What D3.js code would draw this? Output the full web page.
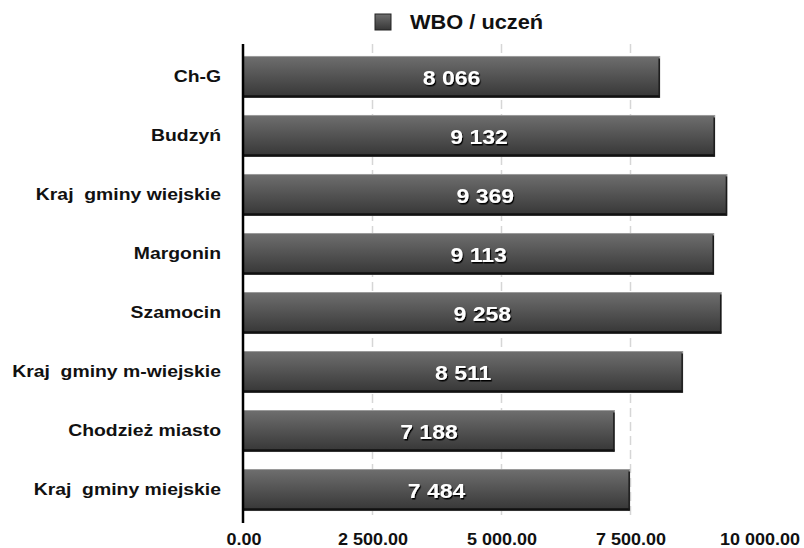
<!DOCTYPE html>
<html>
<head>
<meta charset="utf-8">
<script src="https://cdn.jsdelivr.net/npm/d3@7"></script>
<style>
  body { margin: 0; background: #fff; }
  text { font-family: "Liberation Sans", Arial, sans-serif; }
</style>
</head>
<body>
<div id="chart"></div>
<script>
// categories and values
var categories = ["Ch-G", "Budzyń", "Kraj  gminy wiejskie", "Margonin", "Szamocin",
  "Kraj  gminy m-wiejskie", "Chodzież miasto", "Kraj  gminy miejskie"];
var values = [8066, 9132, 9369, 9113, 9258, 8511, 7188, 7484];
var xTicks = [0, 2500, 5000, 7500, 10000];
var seriesName = "WBO / uczeń";

var svgWidth = 804, svgHeight = 548;

var svg = d3.select("#chart").append("svg")
  .attr("width", svgWidth)
  .attr("height", svgHeight);

var defs = svg.append("defs");
var grad = defs.append("linearGradient")
  .attr("id", "barGrad")
  .attr("x1", 0).attr("y1", 0).attr("x2", 0).attr("y2", 1);
grad.append("stop").attr("offset", "0%").attr("stop-color", "#6e6e6e");
grad.append("stop").attr("offset", "100%").attr("stop-color", "#363636");

var shadow = defs.append("filter").attr("id", "txtShadow")
  .attr("x", "-20%").attr("y", "-20%").attr("width", "140%").attr("height", "140%");
shadow.append("feDropShadow")
  .attr("dx", 1).attr("dy", 1.5).attr("stdDeviation", 0.6)
  .attr("flood-color", "#000").attr("flood-opacity", 1);

var x = d3.scaleLinear().domain([0, 10000]).range([243.5, 759.5]);
var y = d3.scaleBand().domain(categories).range([47.6, 519.4])
  .paddingInner(0.305).paddingOuter(0.15);

// dashed gridlines
svg.append("g").selectAll("line")
  .data(xTicks.filter(d => d > 0 && d < 10000))
  .enter().append("line")
  .attr("x1", d => x(d)).attr("x2", d => x(d))
  .attr("y1", 44).attr("y2", 516)
  .attr("stroke", "#d6d6d6")
  .attr("stroke-width", 1.5)
  .attr("stroke-dasharray", "9,5");

// x axis labels
var fmt = function(v) {
  var s = d3.format(",.2f")(v);
  return s.replace(/,/g, " ");
};
var xAxis = d3.axisBottom(x).tickValues(xTicks).tickFormat(fmt).tickSize(0).tickPadding(0);
var xg = svg.append("g").attr("transform", "translate(0,545)").call(xAxis);
xg.select(".domain").remove();
xg.selectAll("text")
  .attr("dy", "0")
  .attr("y", 0)
  .attr("transform", "scale(1.06,1)")
  .style("font-family", "'Liberation Sans', Arial, sans-serif")
  .style("font-size", "17px")
  .style("font-weight", "bold")
  .attr("fill", "#111");

// bars
var barG = svg.append("g").selectAll("g")
  .data(values)
  .enter().append("g")
  .attr("transform", (d, i) => `translate(0,${y(categories[i])})`);

barG.append("rect")
  .attr("x", x(0))
  .attr("y", 0)
  .attr("width", d => x(d) - x(0))
  .attr("height", y.bandwidth())
  .attr("fill", "url(#barGrad)")
  .attr("stroke", "#9a9a9a")
  .attr("stroke-width", 1);

barG.append("line")
  .attr("x1", x(0)).attr("x2", d => x(d))
  .attr("y1", y.bandwidth() - 1).attr("y2", y.bandwidth() - 1)
  .attr("stroke", "#111").attr("stroke-width", 2.5);

barG.append("line")
  .attr("x1", d => x(d) - 0.5).attr("x2", d => x(d) - 0.5)
  .attr("y1", 2).attr("y2", y.bandwidth())
  .attr("stroke", "#1a1a1a").attr("stroke-width", 1.5);

barG.append("text")
  .attr("transform", d => `translate(${(x(0) + x(d)) / 2},${y.bandwidth() / 2 + 1}) scale(1.15,1)`)
  .attr("text-anchor", "middle")
  .attr("dominant-baseline", "central")
  .attr("fill", "#fff")
  .attr("filter", "url(#txtShadow)")
  .style("font-size", "20px")
  .style("font-weight", "bold")
  .text(d => d3.format(",")(d).replace(/,/g, " "));

// category labels
svg.append("g").selectAll("text")
  .data(categories)
  .enter().append("text")
  .attr("transform", d => `translate(221,${y(d) + y.bandwidth() / 2 - 1}) scale(1.14,1)`)
  .attr("text-anchor", "end")
  .attr("dominant-baseline", "central")
  .attr("fill", "#111")
  .style("font-size", "17px")
  .style("font-weight", "bold")
  .style("white-space", "pre")
  .text(d => d);

// y axis line
svg.append("line")
  .attr("x1", x(0) - 0.5).attr("x2", x(0) - 0.5)
  .attr("y1", 44).attr("y2", 523)
  .attr("stroke", "#000").attr("stroke-width", 2.5);

// legend
var legend = svg.append("g").attr("transform", "translate(375,14)");
legend.append("rect")
  .attr("width", 16).attr("height", 16)
  .attr("fill", "url(#barGrad)")
  .attr("stroke", "#222").attr("stroke-width", 1);
legend.append("text")
  .attr("transform", "translate(35,8) scale(1.09,1)")
  .attr("dominant-baseline", "central")
  .attr("fill", "#111")
  .style("font-size", "20px")
  .style("font-weight", "bold")
  .text(seriesName);
</script>
</body>
</html>
